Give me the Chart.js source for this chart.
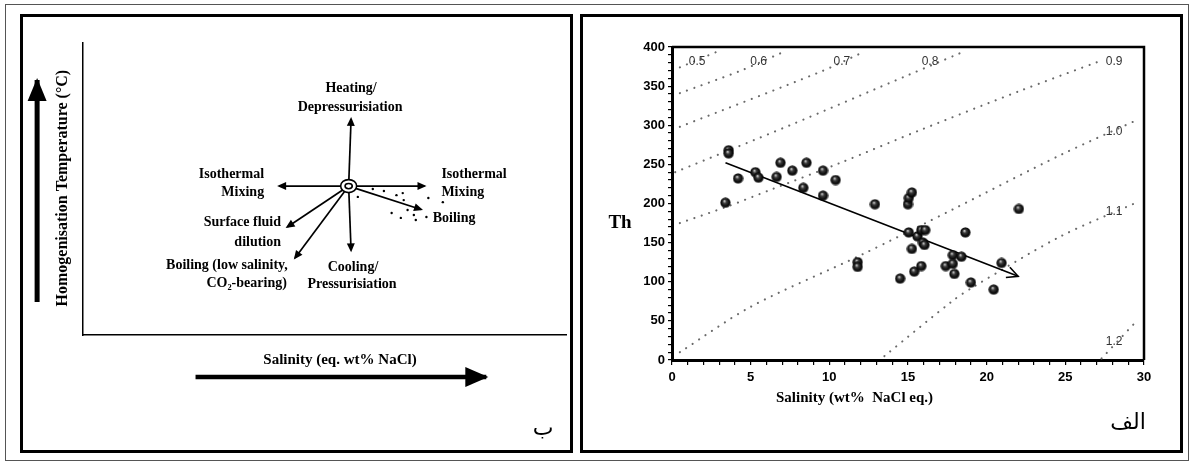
<!DOCTYPE html>
<html><head><meta charset="utf-8">
<script src="https://cdn.jsdelivr.net/npm/chart.js@4.4.1/dist/chart.umd.min.js"></script>
<style>
html,body{margin:0;padding:0;background:#fff;width:1190px;height:464px;overflow:hidden;}
#outer{position:absolute;left:5px;top:4px;width:1184px;height:457px;border:1px solid #555;box-sizing:border-box;}
.panel{position:absolute;border:3px solid #000;box-sizing:border-box;}
#pl{left:20px;top:14px;width:553px;height:439px;}
#pr{left:580px;top:14px;width:603px;height:439px;}
canvas{position:absolute;}
#cl{left:23px;top:17px;}
#cr{left:583px;top:17px;}
</style></head><body>
<div id="outer"></div>
<div class="panel" id="pl"></div>
<div class="panel" id="pr"></div>
<canvas id="cl" width="547" height="433"></canvas>
<canvas id="cr" width="597" height="433"></canvas>
<script>
// ---------- Right panel data (Th vs salinity) ----------
const salinity = [3.6,3.6,3.4,4.2,5.3,5.5,6.65,6.9,7.65,8.35,8.55,9.6,9.6,10.4,11.8,11.8,12.9,14.5,15.0,15.05,15.25,15.05,15.25,15.4,15.6,15.85,16.1,15.95,16.05,15.85,17.4,17.85,17.85,17.95,18.4,18.65,19.0,20.45,20.95,22.05];
const th       = [268,264,201,232,240,233,234,252,242,220,252,242,210,230,125,119,199,104,199,207,214,163,142,113,158,166,166,150,147,120,120,134,123,110,132,163,99,90,124,193];
const trendX = [3.4, 22.0];
const trendY = [252, 107];
const isoNames = ['0.5','0.6','0.7','0.8','0.9','1.0','1.1','1.2'];
const isoXs = [
  [0.5,3.1],
  [0.5,4.4,6.9],
  [0.5,9.4,11.9],
  [0.2,7.5,15.0,18.3],
  [0.5,3.5,6.2,10.7,15.8,22,27.2],
  [0.5,5,12,18,24.7,29.7],
  [13.5,17.8,19.2,24.7,29.5],
  [27.3,29.4]
];
const isoYs = [
  [374,396],
  [341,370,392],
  [298,368,391],
  [240,300,364,392],
  [175,196,217,252,294,343,382],
  [10,68,134,194,262,308],
  [5,75,94,158,201],
  [2,47]
];
const isoLabelX = [1.6,5.5,10.8,16.4,28.1,28.1,28.1,28.1];
const isoLabelY = [381.5,381.5,381.5,381.5,381.5,292,189.5,24];
const yTickStep = 10, yLabelEvery = 50, xTickStep = 1, xLabelEvery = 5;

// ---------- Left panel (schematic) data, in 0..100 schematic units ----------
const center = [55, 51];
const arrowNames = ['up','down','left','right','boiling','dilution','lowSalinity'];
const arrowTipX = [55.5, 55.5, 40.6, 70.7, 70.0, 42.3, 43.9];
const arrowTipY = [74.0, 29.0, 51.0, 51.0, 43.0, 37.0, 26.4];
const boilDotsX = [56.9,60.0,62.3,64.9,66.2,66.4,63.9,65.8,67.2,68.5,71.5,71.1,68.9,74.5];
const boilDotsY = [47.3,50.0,49.3,47.9,48.6,46.2,41.8,40.1,42.8,41.1,46.9,40.4,39.4,45.5];
const labelTexts = ['Heating/','Depressurisiation','Isothermal','Mixing','Isothermal','Mixing','Boiling','Surface fluid','dilution','Boiling (low salinity,','CO\u2082-bearing)','Cooling/','Pressurisiation'];
const labelX = [55.5,55.3,37.5,37.5,74.2,74.2,72.4,41.0,41.0,42.4,42.2,55.9,55.7];
const labelY = [84.6,78.1,55.1,49.0,55.1,49.0,40.0,38.4,31.8,24.0,17.8,23.3,17.5];
const labelAlign = ['center','center','right','right','left','left','left','right','right','right','right','center','center'];
const bigUpX = [-9.5,-9.5], bigUpY = [11.3,87.3];
const bigRightX = [23.3,83.5], bigRightY = [-14.4,-14.4];

const SERIF = '"Liberation Serif", "Times New Roman", serif';

function drawHead(ctx, x1, y1, x2, y2, len, w, filled) {
  const a = Math.atan2(y2 - y1, x2 - x1);
  const ux = Math.cos(a), uy = Math.sin(a);
  const ext = filled ? 2 : 0;
  const tx = x2 + ux * ext, ty = y2 + uy * ext;
  const bx = tx - ux * len, by = ty - uy * len;
  ctx.beginPath();
  ctx.moveTo(bx - uy * w / 2, by + ux * w / 2);
  ctx.lineTo(tx, ty);
  ctx.lineTo(bx + uy * w / 2, by - ux * w / 2);
  if (filled) { ctx.closePath(); ctx.fill(); } else { ctx.stroke(); }
}

// ---------- Left chart ----------
const leftDatasets = [];
arrowNames.forEach((n, i) => {
  leftDatasets.push({label: n, data: [{x: center[0], y: center[1]}, {x: arrowTipX[i], y: arrowTipY[i]}],
    showLine: true, pointRadius: 0, borderColor: '#000', borderWidth: 1.7, clip: false,
    head: {len: 9, w: 8}});
});
leftDatasets.push({label: 'bigUp', data: bigUpX.map((x, i) => ({x, y: bigUpY[i]})), showLine: true,
  pointRadius: 0, borderColor: '#000', borderWidth: 5, clip: false, head: {len: 23, w: 19}});
leftDatasets.push({label: 'bigRight', data: bigRightX.map((x, i) => ({x, y: bigRightY[i]})), showLine: true,
  pointRadius: 0, borderColor: '#000', borderWidth: 4.5, clip: false, head: {len: 23, w: 20}});
leftDatasets.push({label: 'dots', data: boilDotsX.map((x, i) => ({x, y: boilDotsY[i]})), showLine: false,
  pointRadius: 1.2, pointBackgroundColor: '#000', pointBorderWidth: 0, clip: false});

const leftPlugin = {
  id: 'leftDeco',
  afterDatasetsDraw(chart) {
    const {ctx, scales: {x, y}} = chart;
    ctx.save();
    ctx.fillStyle = '#000'; ctx.strokeStyle = '#000';
    chart.data.datasets.forEach(ds => {
      if (!ds.head) return;
      const n = ds.data.length, p1 = ds.data[n - 2], p2 = ds.data[n - 1];
      drawHead(ctx, x.getPixelForValue(p1.x), y.getPixelForValue(p1.y),
        x.getPixelForValue(p2.x), y.getPixelForValue(p2.y), ds.head.len, ds.head.w, true);
    });
    // centre ellipse
    const cx = x.getPixelForValue(center[0]), cy = y.getPixelForValue(center[1]);
    ctx.lineWidth = 1.6;
    ctx.fillStyle = '#fff';
    ctx.beginPath(); ctx.ellipse(cx, cy, 8, 6.5, 0, 0, Math.PI * 2); ctx.fill(); ctx.stroke();
    ctx.beginPath(); ctx.ellipse(cx, cy, 3.6, 2.6, 0, 0, Math.PI * 2); ctx.stroke();
    // labels
    ctx.fillStyle = '#000';
    ctx.font = 'bold 14px ' + SERIF;
    ctx.textBaseline = 'middle';
    labelTexts.forEach((t, i) => {
      ctx.textAlign = labelAlign[i];
      ctx.fillText(t, x.getPixelForValue(labelX[i]), y.getPixelForValue(labelY[i]));
    });
    // axis titles
    ctx.font = 'bold 15px ' + SERIF;
    ctx.textAlign = 'center';
    ctx.fillText('Salinity (eq. wt% NaCl)', x.getPixelForValue(53.2), y.getPixelForValue(-8.6));
    ctx.save();
    ctx.translate(x.getPixelForValue(-4.1), y.getPixelForValue(50.3));
    ctx.rotate(-Math.PI / 2);
    ctx.font = 'bold 16px ' + SERIF;
    ctx.fillText('Homogenisation Temperature (\u00B0C)', 0, 0);
    ctx.restore();
    // panel letter
    ctx.font = '22px "DejaVu Sans", sans-serif';
    ctx.textAlign = 'center';
    ctx.fillText('\u0628', chart.chartArea.right - 23, chart.chartArea.bottom + 94);
    ctx.restore();
  }
};

new Chart(document.getElementById('cl'), {
  type: 'scatter',
  data: {datasets: leftDatasets},
  options: {
    responsive: false, animation: false, devicePixelRatio: 1,
    layout: {padding: {left: 60, right: 2, top: 26, bottom: 115}},
    plugins: {legend: {display: false}, tooltip: {enabled: false}},
    scales: {
      x: {type: 'linear', min: 0, max: 100, ticks: {display: false}, grid: {display: false, drawTicks: false},
        border: {display: true, color: '#000', width: 1.5}, afterFit: s => { s.height = 0; }},
      y: {type: 'linear', min: 0, max: 100, ticks: {display: false}, grid: {display: false, drawTicks: false},
        border: {display: true, color: '#000', width: 1.5}, afterFit: s => { s.width = 0; }}
    }
  },
  plugins: [leftPlugin]
});

// ---------- Right chart ----------
function sphere() {
  const c = document.createElement('canvas'); c.width = c.height = 11;
  const g = c.getContext('2d');
  const gr = g.createRadialGradient(4.4, 3.8, 0.3, 5.5, 5.5, 5.5);
  gr.addColorStop(0, '#c8c8c8'); gr.addColorStop(0.3, '#3a3a3a'); gr.addColorStop(0.75, '#060606'); gr.addColorStop(1, 'rgba(0,0,0,0.55)');
  g.fillStyle = gr; g.beginPath(); g.arc(5.5, 5.5, 5.3, 0, Math.PI * 2); g.fill();
  return c;
}
const rightDatasets = [];
rightDatasets.push({label: 'inclusions', data: salinity.map((x, i) => ({x, y: th[i]})), showLine: false,
  pointStyle: sphere(), pointRadius: 5, order: 0});
rightDatasets.push({label: 'trend', data: trendX.map((x, i) => ({x, y: trendY[i]})), showLine: true,
  pointRadius: 0, borderColor: '#000', borderWidth: 1.6, order: 1, vhead: true});
isoNames.forEach((n, i) => {
  rightDatasets.push({label: 'iso ' + n, data: isoXs[i].map((x, j) => ({x, y: isoYs[i][j]})), showLine: true,
    pointRadius: 0, borderColor: '#6a6a6a', borderWidth: 2.1, borderDash: [0.1, 7.6], borderCapStyle: 'round',
    tension: 0.3, order: 2});
});

const rightPlugin = {
  id: 'rightDeco',
  afterDatasetsDraw(chart) {
    const {ctx, chartArea: a, scales: {x, y}} = chart;
    ctx.save();
    ctx.strokeStyle = '#000';
    ctx.lineWidth = 2.5;
    ctx.beginPath(); ctx.moveTo(a.left, a.top); ctx.lineTo(a.right, a.top); ctx.lineTo(a.right, a.bottom); ctx.stroke();
    // open arrowhead on trend
    chart.data.datasets.forEach(ds => {
      if (!ds.vhead) return;
      const n = ds.data.length, p1 = ds.data[n - 2], p2 = ds.data[n - 1];
      ctx.lineWidth = 1.6;
      drawHead(ctx, x.getPixelForValue(p1.x), y.getPixelForValue(p1.y),
        x.getPixelForValue(p2.x), y.getPixelForValue(p2.y), 11, 11, false);
    });
    // iso labels
    ctx.fillStyle = '#333';
    ctx.font = '12px "Liberation Sans", Arial, sans-serif';
    ctx.textAlign = 'center'; ctx.textBaseline = 'middle';
    isoNames.forEach((t, i) => ctx.fillText(t, x.getPixelForValue(isoLabelX[i]), y.getPixelForValue(isoLabelY[i])));
    // titles
    ctx.fillStyle = '#000';
    ctx.font = 'bold 15px ' + SERIF;
    ctx.fillText('Salinity (wt%  NaCl eq.)', x.getPixelForValue(11.6), a.bottom + 38);
    ctx.font = 'bold 19px ' + SERIF;
    ctx.fillText('Th', a.left - 52, y.getPixelForValue(175));
    ctx.font = '22px "DejaVu Sans", sans-serif';
    ctx.fillText('\u0627\u0644\u0641', a.right - 16, a.bottom + 63);
    ctx.restore();
  }
};

const tickFont = {family: '"Liberation Sans", Arial, sans-serif', weight: 'bold', size: 13};
new Chart(document.getElementById('cr'), {
  type: 'scatter',
  data: {datasets: rightDatasets},
  options: {
    responsive: false, animation: false, devicePixelRatio: 1,
    layout: {padding: {left: 0, right: 36, top: 30, bottom: 0}},
    plugins: {legend: {display: false}, tooltip: {enabled: false}},
    scales: {
      x: {type: 'linear', min: 0, max: 30,
        ticks: {stepSize: xTickStep, autoSkip: false, maxRotation: 0, color: '#000', font: tickFont, padding: 5,
          callback: v => (v % xLabelEvery === 0 ? String(v) : '')},
        grid: {drawOnChartArea: false, drawTicks: true, tickLength: 5, color: '#000', lineWidth: 1.2},
        border: {display: true, color: '#000', width: 3},
        afterFit: s => { s.height = 90; }},
      y: {type: 'linear', min: 0, max: 400,
        ticks: {stepSize: yTickStep, autoSkip: false, color: '#000', font: tickFont, padding: 3,
          callback: v => (v % yLabelEvery === 0 ? String(v) : '')},
        grid: {drawOnChartArea: false, drawTicks: true, tickLength: 4, color: '#000', lineWidth: 1.2},
        border: {display: true, color: '#000', width: 3},
        afterFit: s => { s.width = 89; }}
    }
  },
  plugins: [rightPlugin]
});
</script>
</body></html>
